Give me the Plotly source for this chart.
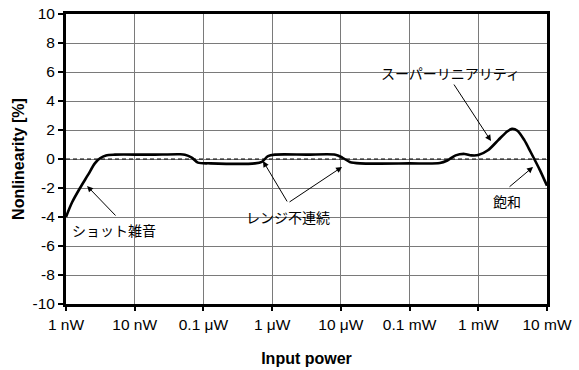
import plotly.graph_objects as go

# log10 of input power in W, and nonlinearity in %
power_log = [-9.0, -8.913, -8.796, -8.68, -8.58, -8.505, -8.418, -8.29, -7.78, -7.35, -7.27,
             -7.17, -7.08, -6.9, -6.25, -6.15, -6.06, -5.96, -5.5, -5.08, -4.98, -4.87, -4.72,
             -4.0, -3.56, -3.45, -3.33, -3.2, -3.1, -3.0, -2.86, -2.71, -2.58, -2.51, -2.43,
             -2.33, -2.24, -2.1, -2.0]
nonlinearity = [-4.0, -3.0, -2.0, -1.1, -0.3, 0.05, 0.25, 0.3, 0.3, 0.33, 0.3,
                0.1, -0.25, -0.3, -0.3, -0.2, 0.2, 0.3, 0.3, 0.3, 0.1, -0.2, -0.3,
                -0.3, -0.28, -0.1, 0.25, 0.35, 0.25, 0.27, 0.6, 1.3, 1.9, 2.08, 1.95,
                1.3, 0.5, -0.8, -1.85]

tick_vals = [-9, -8, -7, -6, -5, -4, -3, -2]
tick_text = ["1 nW", "10 nW", "0.1 μW", "1 μW", "10 μW", "0.1 mW", "1 mW", "10 mW"]
y_ticks = [10, 8, 6, 4, 2, 0, -2, -4, -6, -8, -10]
y_tick_text = ["10", "8", "6", "4", "2", "0", "-2", "-4", "-6", "-8", "-10"]

labels = ["ショット雑音", "レンジ不連続", "スーパーリニアリティ", "飽和"]
label_x = [-8.30, -5.77, -3.41, -2.58]
label_y = [-4.9, -3.97, 5.93, -2.9]

arrow_tail_x = [-8.258, -5.769, -5.769, -3.368, -2.567]
arrow_tail_y = [-4.0, -3.03, -3.03, 5.24, -2.0]
arrow_head_x = [-8.694, -6.133, -4.983, -2.815, -2.203]
arrow_head_y = [-1.86, -0.14, -0.55, 1.24, -0.55]

fig = go.Figure()
fig.add_trace(go.Scatter(x=[-9, -2], y=[0, 0], mode="lines",
                         line=dict(color="black", width=1, dash="4px,3px"), hoverinfo="skip"))
fig.add_trace(go.Scatter(x=power_log, y=nonlinearity, mode="lines",
                         line=dict(color="black", width=2.6, shape="spline", smoothing=0.8)))

jp_font = dict(family="Noto Sans CJK JP", size=14, color="black")
for t, x, y in zip(labels, label_x, label_y):
    fig.add_annotation(x=x, y=y, text=t, showarrow=False, font=jp_font, xref="x", yref="y")
for tx, ty, hx, hy in zip(arrow_tail_x, arrow_tail_y, arrow_head_x, arrow_head_y):
    fig.add_annotation(x=hx, y=hy, ax=tx, ay=ty, xref="x", yref="y", axref="x", ayref="y",
                       text="", showarrow=True, arrowhead=2, arrowsize=1.2, arrowwidth=1,
                       arrowcolor="black", standoff=0, startstandoff=0)

axis_font = dict(family="Liberation Sans, Arial", size=15.5, color="black")
title_font = dict(family="Liberation Sans, Arial", size=16, color="black")
fig.update_xaxes(range=[-9, -2], tickvals=tick_vals, ticktext=tick_text, tickfont=axis_font,
                 showgrid=True, gridcolor="#7a7a7a", gridwidth=1, zeroline=False,
                 showline=True, linecolor="black", linewidth=3, mirror=True,
                 ticks="outside", ticklen=4, tickcolor="black", tickwidth=2,
                 automargin=False, ticklabeloverflow="allow",
                 title=dict(text="<b>Input power</b>", font=title_font, standoff=22))
fig.update_yaxes(range=[-10, 10], tickvals=y_ticks, ticktext=y_tick_text, tickfont=axis_font,
                 showgrid=True, gridcolor="#7a7a7a", gridwidth=1, zeroline=False,
                 showline=True, linecolor="black", linewidth=3, mirror=True,
                 ticks="outside", ticklen=5, tickcolor="black", tickwidth=2,
                 automargin=False, ticklabeloverflow="allow",
                 title=dict(text="<b>Nonlinearity [%]</b>", font=title_font, standoff=4))
fig.update_layout(width=579, height=370, margin=dict(l=66, r=32, t=14, b=66),
                  plot_bgcolor="white", paper_bgcolor="white", showlegend=False)
fig.write_html("out.html", config={"displayModeBar": False},
               post_script="document.body.style.margin='0';")
